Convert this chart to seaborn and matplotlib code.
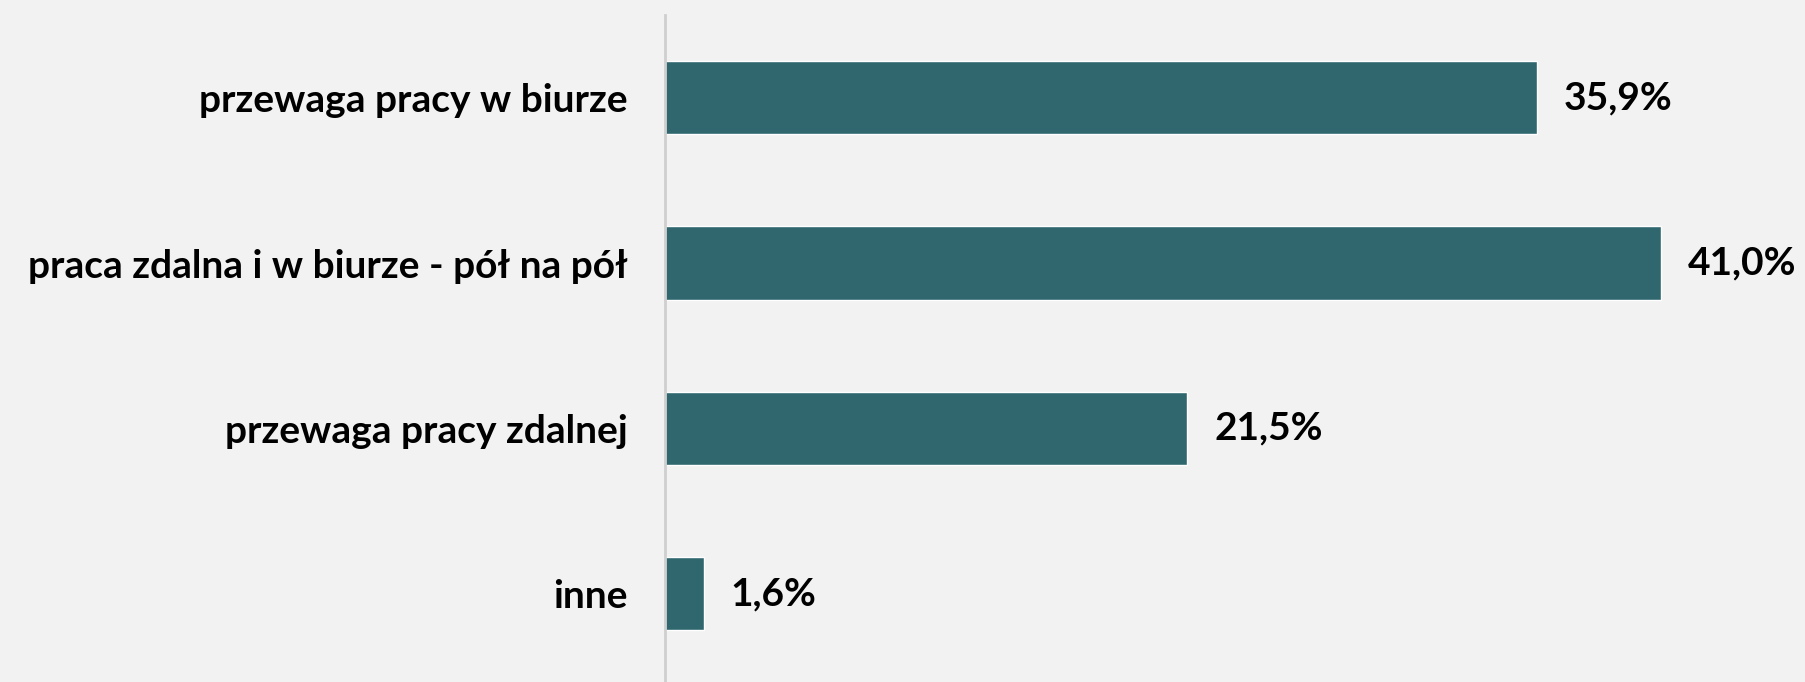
import seaborn as sns
import matplotlib.pyplot as plt
import pandas as pd

categories = ['przewaga pracy w biurze', 'praca zdalna i w biurze - pół na pół',
              'przewaga pracy zdalnej', 'inne']
values = [35.9, 41.0, 21.5, 1.6]
value_labels = ['35,9%', '41,0%', '21,5%', '1,6%']

df = pd.DataFrame({'category': categories, 'value': values})

sns.set_style('white')
plt.rcParams['font.family'] = ['Lato', 'DejaVu Sans']
plt.rcParams['text.color'] = 'black'
plt.rcParams['ytick.color'] = 'black'

bg = '#F2F2F2'
fig = plt.figure(figsize=(18.06, 6.82), dpi=100, facecolor=bg)
ax = fig.add_axes([0.3682, 0.0, 0.6055, 0.978])
ax.set_facecolor(bg)

sns.barplot(data=df, x='value', y='category', color='#30676F', width=0.443,
            saturation=1, ax=ax)

ax.set_xlim(0, 45)
ax.set_ylim(3.533, -0.5)

# value labels to the right of each bar
for i, (v, lab) in enumerate(zip(values, value_labels)):
    ax.text(v + 1.1, i, lab, va='center', ha='left', fontsize=28,
            fontweight='bold', color='black')

ax.set_xlabel('')
ax.set_ylabel('')
ax.set_xticks([])
ax.tick_params(axis='y', length=0, pad=27, labelsize=28, labelcolor='black')
for t in ax.get_yticklabels():
    t.set_fontweight('bold')

for s in ['top', 'right', 'bottom']:
    ax.spines[s].set_visible(False)
ax.spines['left'].set_color('#CFCFCF')
ax.spines['left'].set_linewidth(2)
ax.spines['left'].set_linestyle((0, (1.5, 1)))

fig.savefig('out.png', dpi=100, facecolor=bg)
